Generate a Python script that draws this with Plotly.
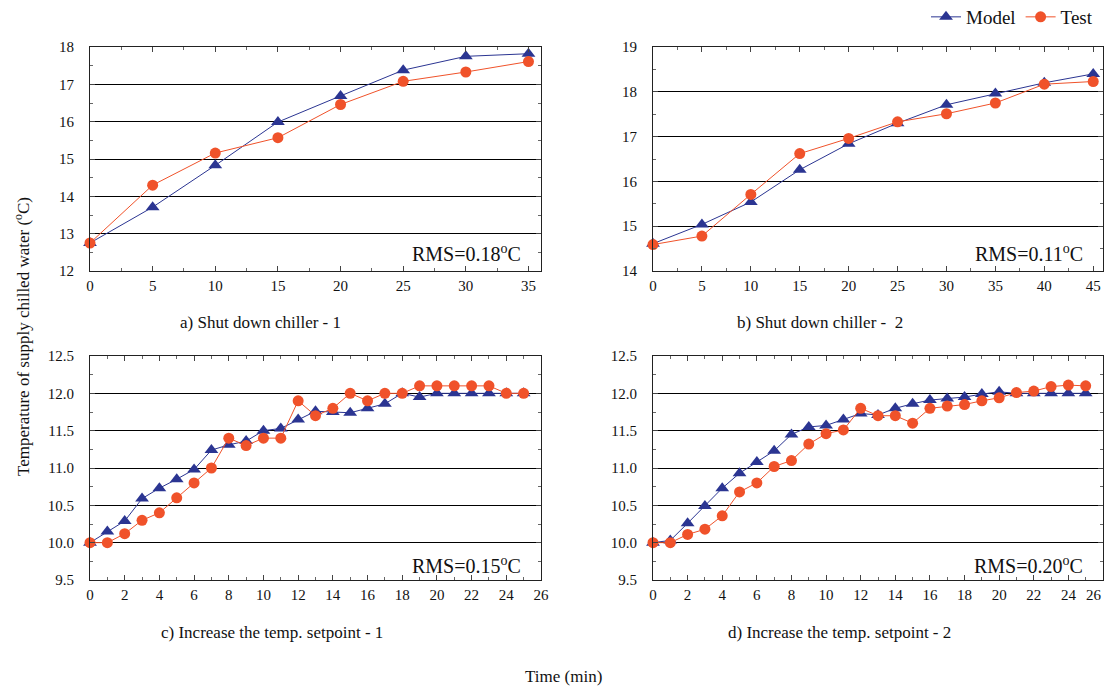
import plotly.graph_objects as go
from plotly.subplots import make_subplots

# ---------------- data ----------------
t_a = [0, 5, 10, 15, 20, 25, 30, 35]
model_a = [12.75, 13.71, 14.83, 15.99, 16.69, 17.38, 17.75, 17.82]
test_a = [12.75, 14.30, 15.16, 15.57, 16.46, 17.08, 17.33, 17.61]

t_b = [0, 5, 10, 15, 20, 25, 30, 35, 40, 45]
model_b = [14.61, 15.04, 15.54, 16.26, 16.84, 17.30, 17.71, 17.96, 18.20, 18.40]
test_b = [14.59, 14.78, 15.71, 16.62, 16.96, 17.33, 17.51, 17.75, 18.17, 18.23]

t_c = list(range(26))
model_c = [10.0, 10.15, 10.29, 10.59, 10.73, 10.85, 10.98, 11.24, 11.31, 11.36,
           11.50, 11.53, 11.65, 11.76, 11.75, 11.74, 11.80, 11.86, 12.0, 11.95,
           12.0, 12.0, 12.0, 12.0, 12.0, 12.0]
test_c = [10.0, 10.0, 10.12, 10.30, 10.40, 10.60, 10.80, 11.00, 11.40, 11.30,
          11.40, 11.40, 11.90, 11.70, 11.80, 12.0, 11.90, 12.0, 12.0, 12.1,
          12.1, 12.1, 12.1, 12.1, 12.0, 12.0]

t_d = list(range(26))
model_d = [10.0, 10.03, 10.26, 10.49, 10.73, 10.93, 11.08, 11.23, 11.45, 11.55,
           11.57, 11.65, 11.73, 11.71, 11.80, 11.86, 11.91, 11.93, 11.95, 11.99,
           12.02, 12.0, 12.0, 12.0, 12.0, 12.0]
test_d = [10.0, 10.0, 10.11, 10.18, 10.36, 10.68, 10.80, 11.02, 11.10, 11.32,
          11.46, 11.51, 11.80, 11.70, 11.70, 11.60, 11.80, 11.83, 11.85, 11.90,
          11.94, 12.01, 12.03, 12.09, 12.11, 12.10]

x_ticks_d = [0, 2, 4, 6, 8, 10, 12, 14, 16, 18, 20, 22, 24]
x_last_tick_d = 26

subtitles = ["a) Shut down chiller - 1", "b) Shut down chiller -  2",
             "c) Increase the temp. setpoint - 1", "d) Increase the temp. setpoint - 2"]
rms_labels = ["RMS=0.18<sup>o</sup>C", "RMS=0.11<sup>o</sup>C",
              "RMS=0.15<sup>o</sup>C", "RMS=0.20<sup>o</sup>C"]

# ---------------- style ----------------
BLUE = "#2B3592"
ORANGE = "#F0522A"
FONT = "Liberation Serif, Times New Roman, serif"
OFF = 8                     # page body margin of the browser
W, H = 1113 - OFF, 689 - OFF

fig = make_subplots(rows=2, cols=2)

panels = [
    (1, 1, t_a, model_a, test_a),
    (1, 2, t_b, model_b, test_b),
    (2, 1, t_c, model_c, test_c),
    (2, 2, t_d, model_d, test_d),
]
for i, (r, c, t, m, s) in enumerate(panels):
    fig.add_trace(go.Scatter(x=t, y=m, mode="lines+markers", name="Model",
                             line=dict(color=BLUE, width=1),
                             marker=dict(symbol="triangle-up", size=12, color=BLUE),
                             showlegend=(i == 0), legendgroup="m", cliponaxis=False),
                  row=r, col=c)
    fig.add_trace(go.Scatter(x=t, y=s, mode="lines+markers", name="Test",
                             line=dict(color=ORANGE, width=1),
                             marker=dict(symbol="circle", size=11, color=ORANGE),
                             showlegend=(i == 0), legendgroup="t", cliponaxis=False),
                  row=r, col=c)

px = lambda v: (v - OFF) / W
py = lambda v: 1 - (v - OFF) / H
xdom = [[px(90), px(541)], [px(653), px(1103)]]
ydom = [[py(271), py(47)], [py(580), py(356)]]

xcfg = [
    dict(range=[0, 36], dtick=5, minor=dict(dtick=2.5)),
    dict(range=[0, 46], dtick=5, minor=dict(dtick=2.5)),
    dict(range=[0, 26], dtick=2, minor=dict(dtick=1)),
    dict(range=[0, 26], dtick=2, minor=dict(dtick=1)),
]
ycfg = [
    dict(range=[12, 18], dtick=1, minor=dict(dtick=0.5), tickformat="d"),
    dict(range=[14, 19], dtick=1, minor=dict(dtick=0.5), tickformat="d"),
    dict(range=[9.5, 12.5], dtick=0.5, minor=dict(dtick=0.25), tickformat=".1f"),
    dict(range=[9.5, 12.5], dtick=0.5, minor=dict(dtick=0.25), tickformat=".1f"),
]

for i in range(4):
    r, c = divmod(i, 2)
    xa = "xaxis" if i == 0 else f"xaxis{i+1}"
    ya = "yaxis" if i == 0 else f"yaxis{i+1}"
    xc = xcfg[i]
    yc = ycfg[i]
    xdict = dict(domain=xdom[c], range=xc["range"], tick0=0, dtick=xc["dtick"],
                 automargin=False, ticklabeloverflow="allow",
                 showgrid=False, zeroline=False, showline=True, linecolor="#222",
                 linewidth=1, mirror="ticks", ticks="inside", ticklen=5,
                 tickcolor="#444", tickfont=dict(family=FONT, size=15, color="#111"),
                 ticklabelstandoff=1,
                 minor=dict(dtick=xc["minor"]["dtick"], ticks="inside", ticklen=3,
                            tickcolor="#666", showgrid=False))
    if i == 3:
        # last label drawn separately so it stays inside the visible page
        xdict.update(tickmode="array", tickvals=x_ticks_d)
    fig.update_layout(**{
        xa: xdict,
        ya: dict(domain=ydom[r], range=yc["range"], dtick=yc["dtick"],
                 tickformat=yc["tickformat"], automargin=False,
                 showgrid=True, gridcolor="#000", gridwidth=1, zeroline=False,
                 showline=True, linecolor="#222", linewidth=1, mirror="ticks",
                 ticks="inside", ticklen=5, tickcolor="#444",
                 tickfont=dict(family=FONT, size=15, color="#111"),
                 ticklabelstandoff=12,
                 minor=dict(dtick=yc["minor"]["dtick"], ticks="inside", ticklen=3,
                            tickcolor="#666", showgrid=False)),
    })

annotations = []
sub_pos = [(260, 322), (820, 322), (272, 632), (839, 632)]
for (x, y), txt in zip(sub_pos, subtitles):
    annotations.append(dict(x=px(x), y=py(y), xref="paper", yref="paper", text=txt,
                            showarrow=False, xanchor="center", yanchor="middle",
                            font=dict(family=FONT, size=17, color="#111")))

rms_pos = [(0.96, 0.082), (0.96, 0.082), (0.96, 0.068), (0.96, 0.068)]
for i, ((x, y), txt) in enumerate(zip(rms_pos, rms_labels)):
    suffix = "" if i == 0 else str(i + 1)
    annotations.append(dict(x=x, y=y, xref=f"x{suffix} domain", yref=f"y{suffix} domain",
                            text=txt, showarrow=False, xanchor="right", yanchor="middle",
                            font=dict(family=FONT, size=20, color="#111")))

# last x tick label of panel d
annotations.append(dict(x=x_last_tick_d, y=0, xref="x4", yref="y4 domain",
                        text=str(x_last_tick_d), showarrow=False, xanchor="right",
                        yanchor="top", xshift=1, yshift=-5,
                        font=dict(family=FONT, size=15, color="#111")))

annotations.append(dict(x=px(22), y=py(337), xref="paper", yref="paper",
                        text="Temperature of supply chilled water (<sup>o</sup>C)",
                        textangle=-90, showarrow=False, xanchor="center", yanchor="middle",
                        font=dict(family=FONT, size=17, color="#111")))
annotations.append(dict(x=px(563), y=py(676), xref="paper", yref="paper",
                        text="Time (min)", showarrow=False, xanchor="center",
                        yanchor="middle", font=dict(family=FONT, size=17, color="#111")))

fig.update_layout(
    width=W, height=H,
    margin=dict(l=0, r=0, t=0, b=0, autoexpand=False),
    paper_bgcolor="white", plot_bgcolor="white",
    annotations=annotations,
    legend=dict(orientation="h", x=px(1098), xanchor="right", y=py(17), yanchor="middle",
                font=dict(family=FONT, size=19, color="#111"),
                itemwidth=30, tracegroupgap=0, bgcolor="rgba(0,0,0,0)"),
)

fig.write_html("out.html")
